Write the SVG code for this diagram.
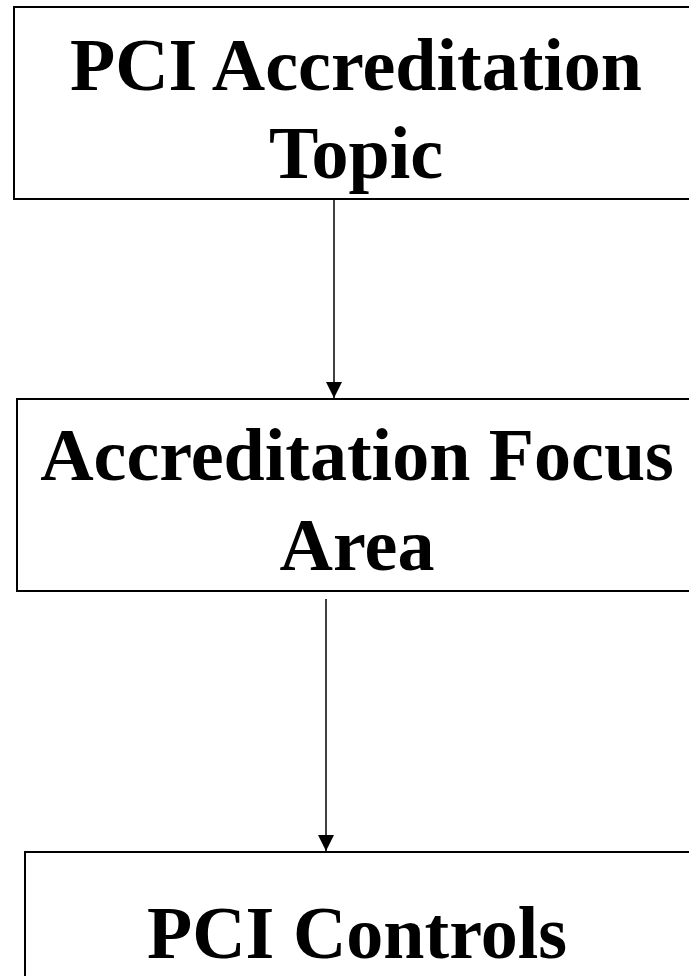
<svg xmlns="http://www.w3.org/2000/svg" width="689" height="976" viewBox="0 0 689 976">
<style>
.box{fill:#fff;stroke:#000;stroke-width:2}
.lbl{font-family:"Liberation Serif","Times New Roman",serif;font-weight:bold;font-size:74px;fill:#000;text-anchor:middle}
.conn{stroke:#000;stroke-width:1.5;fill:none}
</style>
<defs>
<marker id="ah" viewBox="0 0 10 10" refX="10" refY="5" markerUnits="userSpaceOnUse" markerWidth="16" markerHeight="16" orient="auto">
<path d="M0,0 L10,5 L0,10 z" fill="#000"/>
</marker>
</defs>
<rect width="689" height="976" fill="#fff"/>
<g id="topic">
<rect class="box" x="14" y="7" width="700" height="192"/>
<text class="lbl" x="356" y="90">PCI Accreditation</text>
<text class="lbl" x="356" y="178">Topic</text>
</g>
<g id="focus">
<rect class="box" x="17" y="399" width="700" height="192"/>
<text class="lbl" x="357" y="480">Accreditation Focus</text>
<text class="lbl" x="357" y="570">Area</text>
</g>
<g id="controls">
<rect class="box" x="25" y="852" width="700" height="200"/>
<text class="lbl" x="357" y="958">PCI Controls</text>
</g>
<g id="connectors">
<line class="conn" x1="334" y1="199" x2="334" y2="398" marker-end="url(#ah)"/>
<line class="conn" x1="326" y1="599" x2="326" y2="851" marker-end="url(#ah)"/>
</g>
</svg>
